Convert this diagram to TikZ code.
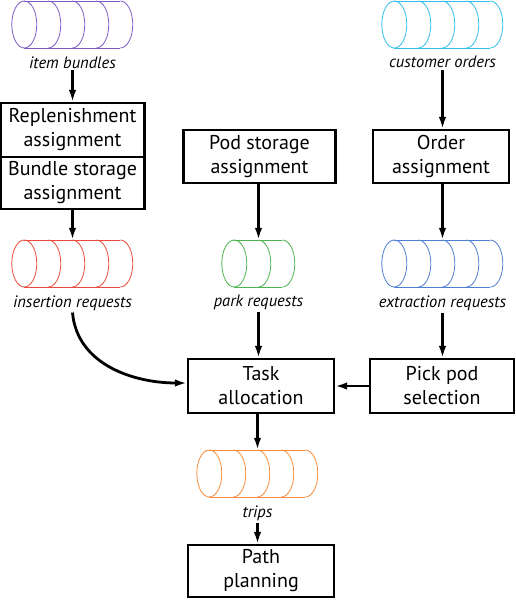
\documentclass[tikz,border=0pt]{standalone}
\usepackage{fontspec}
\setmainfont{PT Sans}
\usetikzlibrary{arrows.meta}

\definecolor{bundlecol}{HTML}{7C5CC4}
\definecolor{ordercol}{HTML}{33BDEB}
\definecolor{insertcol}{HTML}{EA4B3C}
\definecolor{parkcol}{HTML}{4DB34F}
\definecolor{extractcol}{HTML}{4F7FD3}
\definecolor{tripcol}{HTML}{F58C3E}

% queue: name, centre, number of arcs, colour, label
\newcommand{\queue}[5]{
  \node[queue box, minimum width={24*#3+25}, label={[queue label, name=#1-lbl]below:#5}] (#1) at (#2) {};
  \begin{scope}[shift={(#1.west)}, draw=#4, line width=0.8pt]
    \draw (12.5,0) ellipse [x radius=12.5, y radius=23.5];
    \foreach \k in {1,...,#3}
      \draw (12.5+24*\k,-23.5) arc[start angle=-90, end angle=90, x radius=12.5, y radius=23.5];
    \draw (12.5,-23.5) -- ++(24*#3,0) (12.5,23.5) -- ++(24*#3,0);
  \end{scope}
}

\begin{document}
\begin{tikzpicture}[x=1pt, y=-1pt,
    box/.style={draw, line width=2.2pt, inner sep=0pt, align=center, font=\fontsize{20}{24}\selectfont},
    queue box/.style={inner sep=0pt, minimum height=47},
    queue label/.style={font=\fontsize{16.5}{18}\selectfont\itshape, inner sep=2pt, label distance=6pt},
    flow/.style={line width=2.8pt, -{Latex[length=12pt, width=7.5pt]}}]
  \useasboundingbox (0,0) rectangle (516,600);

  \queue{bundles}{72.5,24.5}{4}{bundlecol}{item bundles}
  \queue{orders}{442.5,24.5}{4}{ordercol}{customer orders}
  \queue{insert}{72.5,263.5}{4}{insertcol}{insertion requests}
  \queue{park}{258.5,263.5}{2}{parkcol}{park requests}
  \queue{extract}{442.5,263.5}{4}{extractcol}{extraction requests}
  \queue{trips}{257.5,473.5}{4}{tripcol}{trips}

  \node[box, minimum width=144, minimum height=54] (replenish) at (72.5,130) {Replenishment\\assignment};
  \node[box, minimum width=144, minimum height=52] (bundlestore) at (72.5,183) {Bundle storage\\assignment};
  \node[box, minimum width=152, minimum height=53] (podstore) at (259.5,156.5) {Pod storage\\assignment};
  \node[box, minimum width=136, minimum height=53] (orderassign) at (441,156.5) {Order\\assignment};
  \node[box, minimum width=146, minimum height=54] (task) at (261,386) {Task\\allocation};
  \node[box, minimum width=144, minimum height=54] (pickpod) at (442,386) {Pick pod\\selection};
  \node[box, minimum width=146, minimum height=52] (path) at (261,571) {Path\\planning};

  \draw[flow] (bundles-lbl.south) -- (bundles-lbl.south |- replenish.north);
  \draw[flow] (orders-lbl.south) -- (orders-lbl.south |- orderassign.north);
  \draw[flow] (bundlestore.south -| insert.north) -- (insert.north);
  \draw[flow] (podstore.south -| park.north) -- (park.north);
  \draw[flow] (orderassign.south -| extract.north) -- (extract.north);
  \draw[flow] (extract-lbl.south) -- (extract-lbl.south |- pickpod.north);
  \draw[flow] (park-lbl.south) -- (park-lbl.south |- task.north);
  \draw[flow] (pickpod.west) -- (task.east);
  \draw[flow] (insert-lbl.south) to[out=-85, in=180] ([yshift=3]task.west);
  \draw[flow] (task.south -| trips.north) -- (trips.north);
  \draw[flow] (trips-lbl.south) -- (trips-lbl.south |- path.north);
\end{tikzpicture}
\end{document}
